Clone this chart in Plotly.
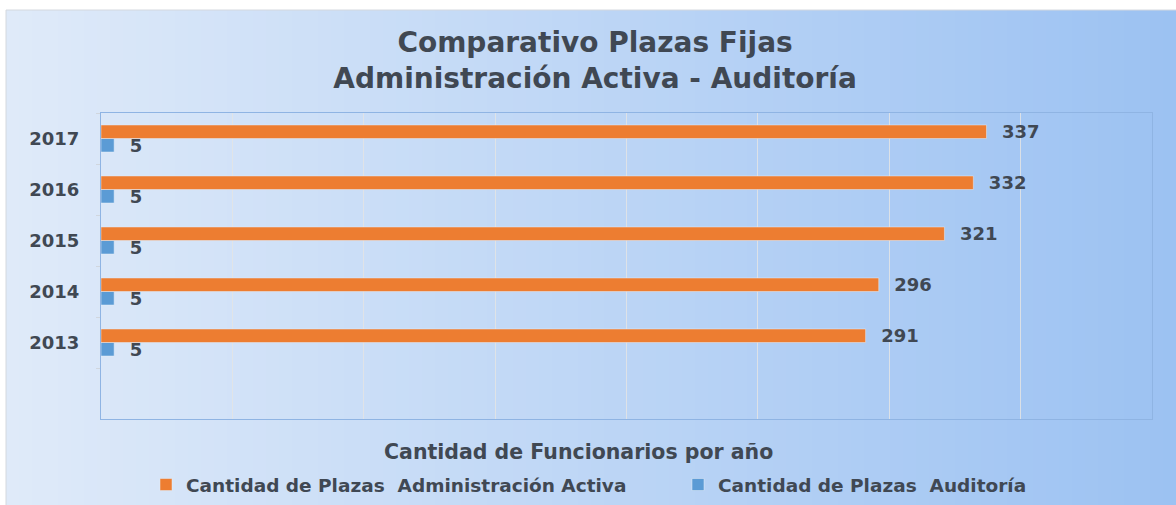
import plotly.graph_objects as go

years = ["2013", "2014", "2015", "2016", "2017"]
admin_activa = [291, 296, 321, 332, 337]
auditoria = [5, 5, 5, 5, 5]

name_admin = "Cantidad de Plazas  Administración Activa"
name_audit = "Cantidad de Plazas  Auditoría"
title_text = "Comparativo Plazas Fijas<br>Administración Activa - Auditoría"
xaxis_title = "Cantidad de Funcionarios por año"

W, H = 1176, 505
ML, MR, MT, MB = 101, 24, 113, 86
PW = W - ML - MR
PH = H - MT - MB

def px_x(px):
    return (px - ML) / PW

def px_y(py):
    return (H - MB - py) / PH

TXT = "#404853"
label_font = dict(family="DejaVu Sans", size=18, color=TXT, weight="bold")

fig = go.Figure()
fig.add_trace(go.Bar(
    y=years, x=auditoria, orientation="h", name=name_audit,
    marker_color="#5b9bd5", legend="legend2", showlegend=True,
    texttemplate="\u00a0\u00a0%{x}", textposition="outside",
    textfont=label_font, cliponaxis=False, constraintext="none",
))
fig.add_trace(go.Bar(
    y=years, x=admin_activa, orientation="h", name=name_admin,
    marker_color="#ed7d31", legend="legend", showlegend=True,
    texttemplate="\u00a0\u00a0%{x}", textposition="outside",
    textfont=label_font, cliponaxis=False, constraintext="none",
))

# background gradient (left light -> right saturated blue)
c0 = (0xdf, 0xea, 0xf9)
c1 = (0x9c, 0xc2, 0xf2)
n = 90
x0p, x1p = 6, W
shapes = []
for i in range(n):
    t = i / (n - 1)
    col = tuple(round(c0[k] + (c1[k] - c0[k]) * t) for k in range(3))
    a = x0p + (x1p - x0p) * i / n
    b = x0p + (x1p - x0p) * (i + 1) / n + 1
    shapes.append(dict(
        type="rect", xref="paper", yref="paper", layer="below",
        x0=px_x(a), x1=px_x(b), y0=px_y(H), y1=px_y(10),
        fillcolor="rgb(%d,%d,%d)" % col, line_width=0,
    ))
shapes.append(dict(
    type="rect", xref="paper", yref="paper", layer="below",
    x0=px_x(6), x1=px_x(W + 2), y0=px_y(H + 2), y1=px_y(10),
    line=dict(color="#d4d8de", width=1), fillcolor="rgba(0,0,0,0)",
))

legend_font = dict(family="DejaVu Sans", size=18.5, color=TXT, weight="bold")

fig.update_layout(
    width=W, height=H,
    margin=dict(l=ML, r=MR, t=MT, b=MB, autoexpand=False),
    paper_bgcolor="white",
    plot_bgcolor="rgba(0,0,0,0)",
    barmode="group",
    bargap=0.47,
    bargroupgap=0,
    shapes=shapes,
    showlegend=True,
    title=dict(
        text=title_text,
        x=0.506, xref="container", xanchor="center",
        y=1 - 52 / H, yref="container", yanchor="middle",
        font=dict(family="DejaVu Sans", size=28, color=TXT, weight="bold"),
    ),
    xaxis=dict(
        range=[0, 400], dtick=50, showticklabels=False,
        showgrid=True, gridcolor="rgba(228,228,228,0.85)", gridwidth=1,
        zeroline=False, showline=True, linecolor="#8fb4e3", linewidth=1,
        mirror=True, fixedrange=True, automargin=False,
    ),
    yaxis=dict(
        type="category", categoryorder="array", categoryarray=years,
        range=[-1.5, 4.5], showgrid=False, automargin=False,
        showline=True, linecolor="#8fb4e3", linewidth=1, mirror=True,
        ticks="outside", tickson="boundaries", ticklen=4,
        tickcolor="#d0d6de", ticklabelstandoff=17,
        tickfont=dict(family="DejaVu Sans", size=18, color=TXT, weight="bold"),
    ),
    legend=dict(
        orientation="h", x=px_x(146), xanchor="left",
        y=px_y(485), yanchor="middle",
        bgcolor="rgba(0,0,0,0)", font=legend_font,
    ),
    legend2=dict(
        orientation="h", x=px_x(678), xanchor="left",
        y=px_y(485), yanchor="middle",
        bgcolor="rgba(0,0,0,0)", font=legend_font,
    ),
    annotations=[dict(
        text=xaxis_title, xref="paper", yref="paper",
        x=px_x(578), y=px_y(452), xanchor="center", yanchor="middle",
        showarrow=False,
        font=dict(family="DejaVu Sans", size=20.5, color=TXT, weight="bold"),
    )],
)

fig.write_html(
    "out.html",
    config={"displayModeBar": False},
    post_script="document.body.style.margin='0px';",
)
